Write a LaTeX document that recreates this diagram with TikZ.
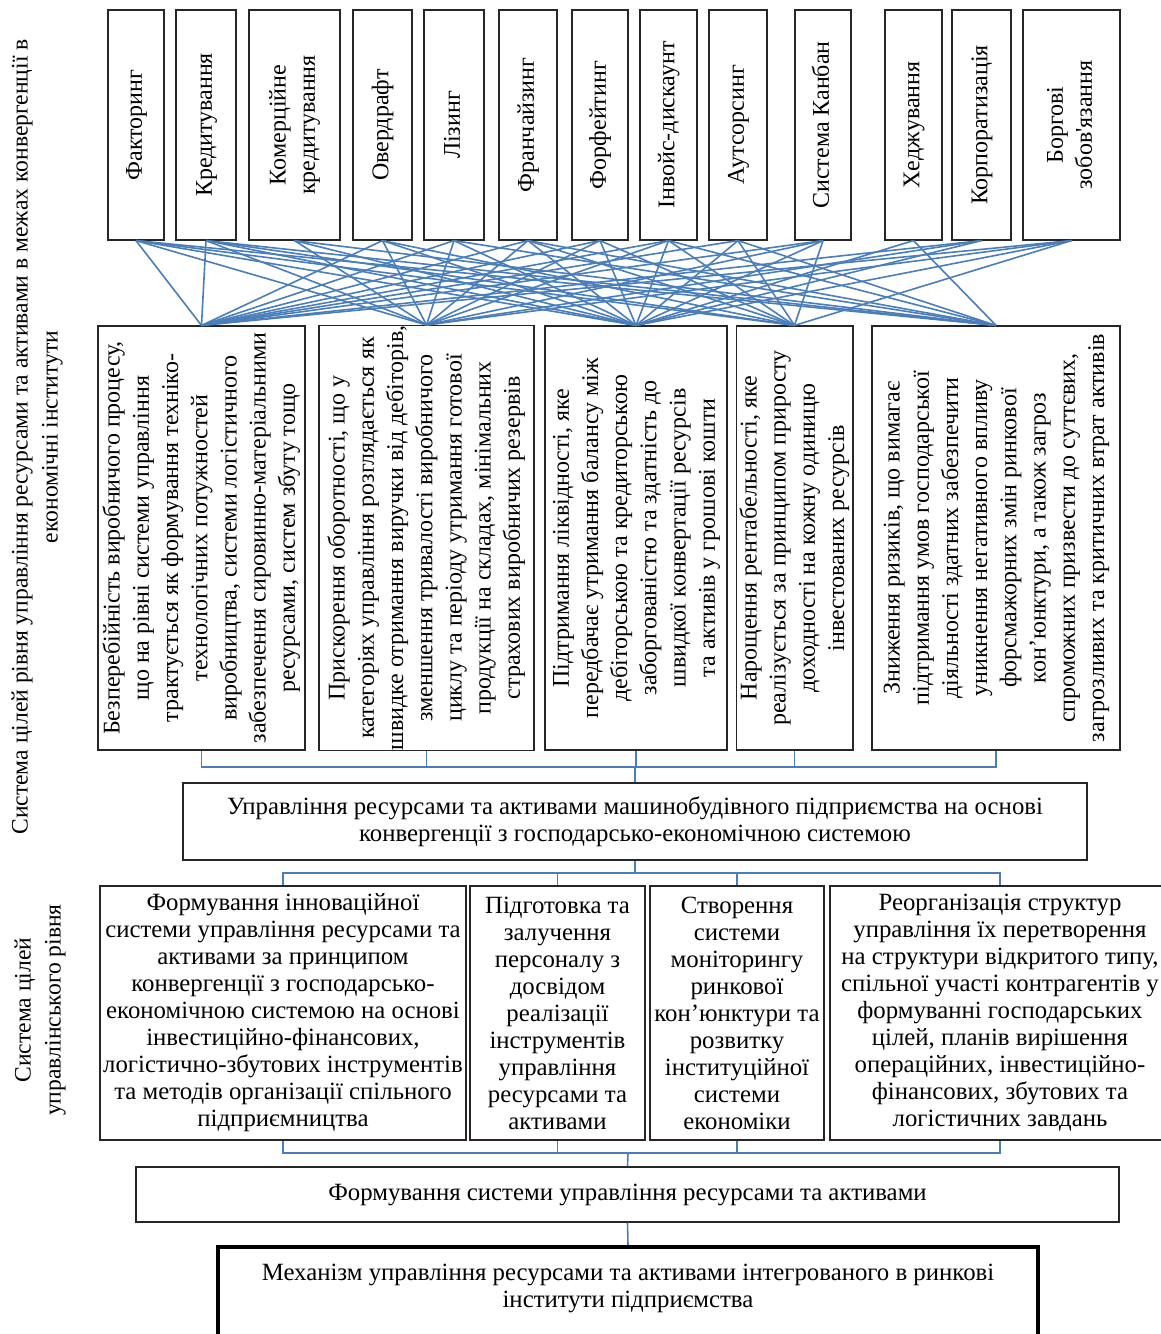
\documentclass[tikz,border=0pt]{standalone}
\usepackage{fontspec}
\newfontfamily\timesfont{Liberation Serif}
\usetikzlibrary{positioning}
\definecolor{linkblue}{RGB}{74,126,187}
\newcommand{\vlabel}[1]{\rotatebox{90}{\begin{tabular}{@{}c@{}}#1\end{tabular}}}
\tikzset{
    every node/.style={font=\timesfont\fontsize{12.4}{13.5}\selectfont}, % Times-like text everywhere
    box/.style={draw=black!85, line width=0.6pt, inner sep=0pt, align=center}, % plain framed box
    topbox/.style={box, minimum height=115pt, font=\timesfont\fontsize{12}{14.6}\selectfont}, % instruments, text turned
    goalbox/.style={box, minimum height=212pt, font=\timesfont\fontsize{12}{14.6}\selectfont}, % goals, text turned
    taskbox/.style={box, minimum height=127pt}, % goals of the managerial level
    link/.style={draw=linkblue, line width=0.8pt}, % blue connectors
    sidelabel/.style={rotate=90, align=center, font=\timesfont\fontsize{11.8}{15}\selectfont}, % level captions
}

\begin{document}
\begin{tikzpicture}[x=0.5pt, y=-0.5pt]
\useasboundingbox (0,0) rectangle (1161,1334);
% instruments
\node[topbox, minimum width=28pt]   (fact)    at (136,125)    {\vlabel{Факторинг}};
\node[topbox, minimum width=30pt]   (kred)    at (206,125)    {\vlabel{Кредитування}};
\node[topbox, minimum width=45.5pt] (komkred) at (294.5,125)  {\vlabel{Комерційне\\кредитування}};
\node[topbox, minimum width=29.5pt] (overdr)  at (382.5,125)  {\vlabel{Овердрафт}};
\node[topbox, minimum width=30pt]   (lizynh)  at (454,125)    {\vlabel{Лізинг}};
\node[topbox, minimum width=29pt]   (franch)  at (528,125)    {\vlabel{Франчайзинг}};
\node[topbox, minimum width=28pt]   (forfeit) at (600,125)    {\vlabel{Форфейтинг}};
\node[topbox, minimum width=28.5pt] (invois)  at (668.5,125)  {\vlabel{Інвойс-дискаунт}};
\node[topbox, minimum width=29pt]   (autsors) at (738,125)    {\vlabel{Аутсорсинг}};
\node[topbox, minimum width=28pt]   (kanban)  at (823,125)    {\vlabel{Система Канбан}};
\node[topbox, minimum width=28.5pt] (hedzh)   at (913.5,125)  {\vlabel{Хеджування}};
\node[topbox, minimum width=29.5pt] (korpor)  at (981.5,125)  {\vlabel{Корпоратизація}};
\node[topbox, minimum width=48.5pt] (borh)    at (1071.5,125) {\vlabel{Боргові\\зобов'язання}};
% goals of the level of resources and assets
\node[goalbox, minimum width=103.5pt] (bezper) at (201.5,538) {\vlabel{Безперебійність виробничого процесу,\\що на рівні системи управління\\трактується як формування техніко-\\технологічних потужностей\\виробництва, системи логістичного\\забезпечення сировинно-матеріальними\\ресурсами, систем збуту тощо}};
\node[goalbox, minimum width=107.5pt] (obort)  at (426.5,538) {\vlabel{Прискорення оборотності, що у\\категоріях управління розглядається як\\швидке отримання виручки від дебіторів,\\зменшення тривалості виробничого\\циклу та періоду утримання готової\\продукції на складах, мінімальних\\страхових виробничих резервів}};
\node[goalbox, minimum width=91pt]    (likv)   at (636,538)   {\vlabel{Підтримання ліквідності, яке\\передбачає утримання балансу між\\дебіторською та кредиторською\\заборгованістю та здатність до\\швидкої конвертації ресурсів\\та активів у грошові кошти}};
\node[goalbox, minimum width=57.5pt]  (rentab) at (794.5,538) {\vlabel{Нарощення рентабельності, яке\\реалізується за принципом приросту\\доходності на кожну одиницю\\інвестованих ресурсів}};
\node[goalbox, minimum width=124pt]   (ryzyk)  at (996,538)   {\vlabel{Зниження ризиків, що вимагає\\підтримання умов господарської\\діяльності здатних забезпечити\\уникнення негативного впливу\\форсмажорних змін ринкової\\кон’юнктури, а також загроз\\спроможних призвести до суттєвих,\\загрозливих та критичних втрат активів}};
% central box
\node[box, minimum width=452pt, minimum height=38.5pt] (upr) at (635,821.5) {Управління ресурсами та активами машинобудівного підприємства на основі\\конвергенції з господарсько-економічною системою};
% goals of the managerial level
\node[taskbox, minimum width=183pt]  (innov) at (283,1013)   {Формування інноваційної\\системи управління ресурсами та\\активами за принципом\\конвергенції з господарсько-\\економічною системою на основі\\інвестиційно-фінансових,\\логістично-збутових інструментів\\та методів організації спільного\\підприємництва};
\node[taskbox, minimum width=87.5pt] (kadry) at (557.5,1013) {Підготовка та\\залучення\\персоналу з\\досвідом\\реалізації\\інструментів\\управління\\ресурсами та\\активами};
\node[taskbox, minimum width=87pt]   (monit) at (737,1013)   {Створення\\системи\\моніторингу\\ринкової\\кон’юнктури та\\розвитку\\інституційної\\системи\\економіки};
\node[taskbox, minimum width=170pt]  (reorg) at (1000,1013)  {Реорганізація структур\\управління їх перетворення\\на структури відкритого типу,\\спільної участі контрагентів у\\формуванні господарських\\цілей, планів вирішення\\операційних, інвестиційно-\\фінансових, збутових та\\логістичних завдань};
\node[box, minimum width=491.5pt, minimum height=27.5pt] (formsys) at (627.5,1194.5) {Формування системи управління ресурсами та активами};
\node[box, draw=black, line width=2pt, minimum width=410pt, minimum height=49pt] (mechbox) at (628,1296) {};
\node[align=center] (mech) at (628,1288) {Механізм управління ресурсами та активами інтегрованого в ринкові\\інститути підприємства};
% level captions
\node[sidelabel] (lvl1) at (37,437)  {Система цілей рівня управління ресурсами та активами в межах конвергенції в\\економічні інститути};
\node[sidelabel] (lvl2) at (40,1010) {Система цілей\\управлінського рівня};
% bus points
\coordinate (busA) at (635,767);
\coordinate (busB) at (635,873);
\coordinate (busC) at (628,1153);
% instruments to goals
\draw[link]
(fact.south) edge (bezper.north)
(fact.south) edge (obort.north)
(fact.south) edge (likv.north)
(fact.south) edge (rentab.north)
(fact.south) edge (ryzyk.north)
(kred.south) edge (bezper.north)
(kred.south) edge (obort.north)
(kred.south) edge (likv.north)
(kred.south) edge (rentab.north)
(kred.south) edge (ryzyk.north)
(komkred.south) edge (obort.north)
(komkred.south) edge (likv.north)
(komkred.south) edge (ryzyk.north)
(overdr.south) edge (bezper.north)
(overdr.south) edge (obort.north)
(overdr.south) edge (likv.north)
(overdr.south) edge (rentab.north)
(lizynh.south) edge (bezper.north)
(lizynh.south) edge (obort.north)
(lizynh.south) edge (likv.north)
(lizynh.south) edge (ryzyk.north)
(franch.south) edge (bezper.north)
(franch.south) edge (obort.north)
(franch.south) edge (likv.north)
(franch.south) edge (rentab.north)
(franch.south) edge (ryzyk.north)
(forfeit.south) edge (bezper.north)
(forfeit.south) edge (obort.north)
(forfeit.south) edge (likv.north)
(forfeit.south) edge (rentab.north)
(invois.south) edge (bezper.north)
(invois.south) edge (obort.north)
(invois.south) edge (likv.north)
(invois.south) edge (rentab.north)
(invois.south) edge (ryzyk.north)
(autsors.south) edge (bezper.north)
(autsors.south) edge (likv.north)
(autsors.south) edge (rentab.north)
(autsors.south) edge (ryzyk.north)
(kanban.south) edge (bezper.north)
(kanban.south) edge (obort.north)
(kanban.south) edge (likv.north)
(kanban.south) edge (rentab.north)
(hedzh.south) edge (likv.north)
(hedzh.south) edge (ryzyk.north)
(korpor.south) edge (bezper.north)
(korpor.south) edge (obort.north)
(korpor.south) edge (likv.north)
(borh.south) edge (bezper.north)
(borh.south) edge (obort.north)
(borh.south) edge (likv.north)
(borh.south) edge (rentab.north);
% goals to central box
\draw[link] (bezper.south) |- (busA);
\draw[link] (obort.south) |- (busA);
\draw[link] (likv.south) |- (busA);
\draw[link] (rentab.south) |- (busA);
\draw[link] (ryzyk.south) |- (busA);
\draw[link] (busA) -- (upr.north);
% central box to managerial goals
\draw[link] (upr.south) -- (busB);
\draw[link] (busB) -| (innov.north);
\draw[link] (busB) -| (kadry.north);
\draw[link] (busB) -| (monit.north);
\draw[link] (busB) -| (reorg.north);
% managerial goals to the system and the mechanism
\draw[link] (innov.south) |- (busC);
\draw[link] (kadry.south) |- (busC);
\draw[link] (monit.south) |- (busC);
\draw[link] (reorg.south) |- (busC);
\draw[link] (busC) -- (formsys.north);
\draw[link] (formsys.south) -- (mechbox.north);
\end{tikzpicture}
\end{document}
